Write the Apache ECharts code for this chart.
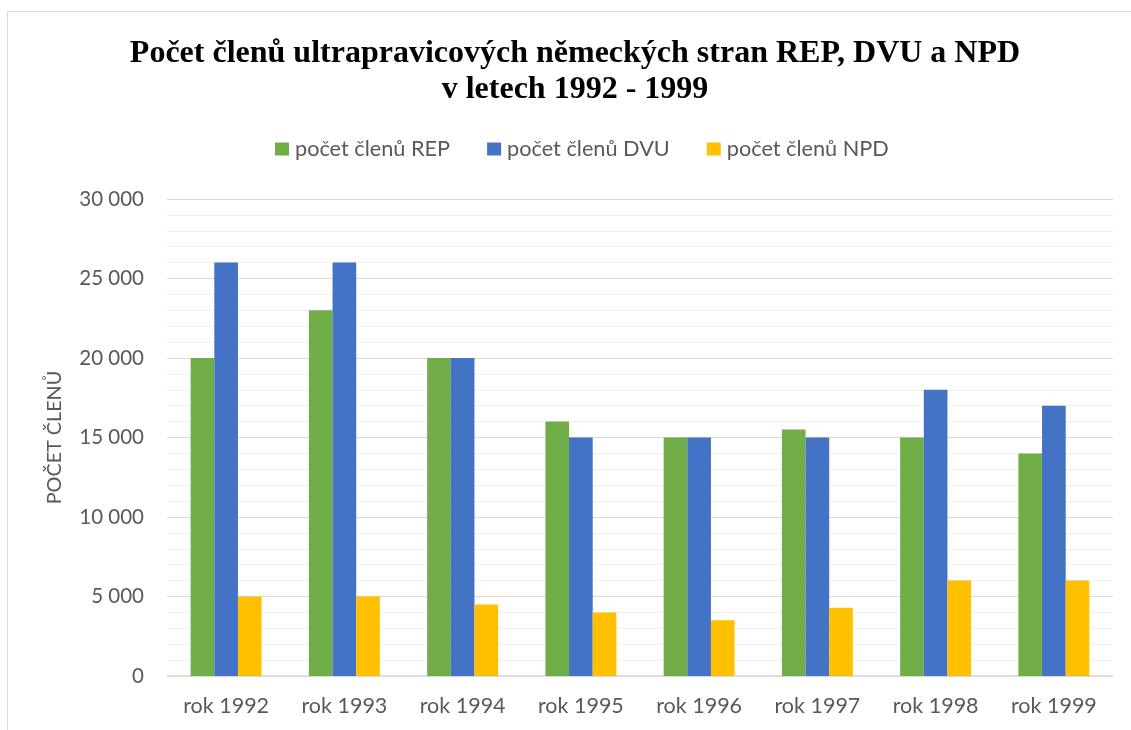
<!DOCTYPE html>
<html>
<head>
<meta charset="utf-8">
<script src="https://cdn.jsdelivr.net/npm/echarts@6/dist/echarts.min.js"></script>
<style>
html,body{margin:0;padding:0;background:#fff;}
#chart{width:1131px;height:730px;}
</style>
</head>
<body>
<div id="chart"></div>
<script>
const categories = ['rok 1992','rok 1993','rok 1994','rok 1995','rok 1996','rok 1997','rok 1998','rok 1999'];
const seriesNames = ['počet členů REP','počet členů DVU','počet členů NPD'];
const repValues = [20000, 23000, 20000, 16000, 15000, 15500, 15000, 14000];
const dvuValues = [26000, 26000, 20000, 15000, 15000, 15000, 18000, 17000];
const npdValues = [5000, 5000, 4500, 4000, 3500, 4300, 6000, 6000];
const titleText = 'Počet členů ultrapravicových německých stran REP, DVU a NPD\nv letech 1992 - 1999';
const yAxisName = 'POČET ČLENŮ';

const colors = ['#70ad47', '#4472c4', '#ffc000'];
const labelFont = 'Lato';
const chart = echarts.init(document.getElementById('chart'));

function fmt(v){
  return String(v).replace(/\B(?=(\d{3})+(?!\d))/g, ' ');
}

chart.setOption({
  animation: false,
  backgroundColor: '#fff',
  color: colors,
  graphic: [{
    type: 'rect',
    shape: {x: 7.5, y: 11.5, width: 1300, height: 900},
    style: {fill: 'none', stroke: '#d9d9d9', lineWidth: 1},
    silent: true,
    z: -10
  }, {
    type: 'text',
    x: 575,
    y: 36,
    silent: true,
    style: {
      text: titleText,
      fontFamily: 'Liberation Serif',
      fontWeight: 'bold',
      fontSize: 32,
      lineHeight: 36,
      fill: '#000',
      align: 'center',
      verticalAlign: 'top'
    }
  }],
  legend: {
    data: seriesNames,
    left: 275,
    top: 138,
    padding: 0,
    icon: 'rect',
    itemWidth: 14,
    itemHeight: 13,
    itemGap: 37,
    textStyle: {fontFamily: labelFont, fontSize: 21.7, color: '#595959', padding: [0, 0, 0, 1]}
  },
  grid: {left: 167, right: 18, top: 199, bottom: 54, containLabel: false},
  xAxis: {
    type: 'category',
    data: categories,
    axisTick: {show: false},
    axisLine: {lineStyle: {color: '#d9d9d9', width: 1.5}},
    axisLabel: {fontFamily: labelFont, fontSize: 21.5, color: '#595959', margin: 19}
  },
  yAxis: {
    type: 'value',
    min: 0,
    max: 30000,
    interval: 5000,
    name: yAxisName,
    nameLocation: 'middle',
    nameGap: 102,
    nameRotate: 90,
    nameTextStyle: {fontFamily: labelFont, fontSize: 19.8, color: '#595959'},
    axisLine: {show: false},
    axisTick: {show: false},
    axisLabel: {fontFamily: labelFont, fontSize: 20.5, color: '#595959', margin: 23, formatter: fmt},
    splitLine: {lineStyle: {color: '#d9d9d9', width: 1}},
    minorTick: {show: false, splitNumber: 5},
    minorSplitLine: {show: true, lineStyle: {color: '#f0f0f0', width: 1}}
  },
  series: [
    {name: seriesNames[0], type: 'bar', data: repValues, barWidth: '20%', barGap: '0%', barCategoryGap: '40%'},
    {name: seriesNames[1], type: 'bar', data: dvuValues, barWidth: '20%', barGap: '0%'},
    {name: seriesNames[2], type: 'bar', data: npdValues, barWidth: '20%', barGap: '0%'}
  ]
});
</script>
</body>
</html>
